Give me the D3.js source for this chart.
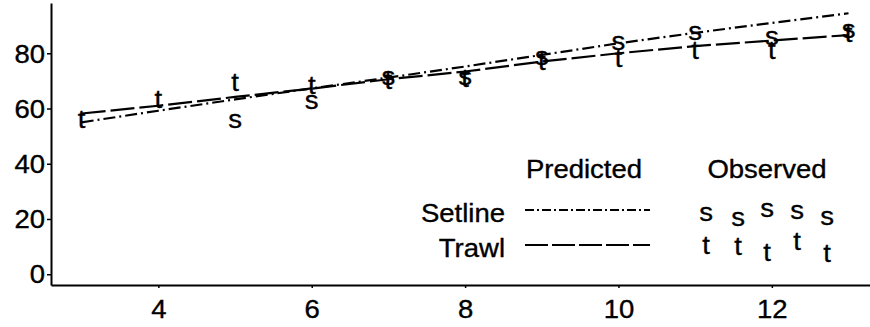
<!DOCTYPE html>
<html>
<head>
<meta charset="utf-8">
<script src="https://cdn.jsdelivr.net/npm/d3@7"></script>
<style>
  html, body { margin: 0; padding: 0; background: #fff; }
  svg { display: block; }
  text { font-family: "Liberation Sans", Arial, Helvetica, sans-serif; fill: #000; stroke: #000; stroke-width: 0.35px; }
</style>
</head>
<body>
<svg id="chart" width="870" height="327"></svg>
<script>
// Age (years) and fitted / observed lengths for two gear types
const ages = [3, 4, 5, 6, 7, 8, 9, 10, 11, 12, 13];
const setlinePredicted = [55.0, 59.2, 63.3, 67.3, 71.2, 75.2, 79.4, 83.6, 87.4, 91.0, 94.5];
const trawlPredicted   = [58.2, 61.0, 64.2, 67.2, 70.6, 73.4, 77.0, 80.0, 82.6, 84.6, 86.6];

const setlineObsAges = [5, 6, 7, 8, 9, 10, 11, 12, 13];
const setlineObserved = [55.2, 62.2, 71.0, 71.0, 78.0, 83.4, 87.0, 85.5, 88.0];
const trawlObsAges = [3, 4, 5, 6, 7, 8, 9, 10, 11, 12, 13];
const trawlObserved = [56.0, 63.1, 69.4, 68.5, 70.0, 71.0, 77.0, 78.0, 81.0, 81.0, 87.0];

const xTicks = [4, 6, 8, 10, 12];
const yTicks = [0, 20, 40, 60, 80];

const svg = d3.select("#chart");
const FS = 25;
const SX = 1.1; // horizontal stretch of the lettering

const x = d3.scaleLinear().domain([2.6, 13.28]).range([51, 870]);
const y = d3.scaleLinear().domain([-3.9, 98.2]).range([285, 3]);

// place a (horizontally stretched) label
function label(parent, tx, ty, str, anchor, dy) {
  const t = parent.append("text")
    .attr("transform", `translate(${tx},${ty}) scale(${SX},1)`)
    .attr("text-anchor", anchor || "middle")
    .attr("font-size", FS)
    .text(str);
  if (dy) t.attr("dy", dy);
  return t;
}

// Axes
const yAxis = svg.append("g")
  .attr("transform", "translate(51,0)")
  .call(d3.axisLeft(y).tickValues(yTicks).tickSize(4).tickSizeOuter(0));
const xAxis = svg.append("g")
  .attr("transform", "translate(0,285)")
  .call(d3.axisBottom(x).tickValues(xTicks).tickSize(3).tickSizeOuter(0));

[yAxis, xAxis].forEach(g => {
  g.select(".domain").attr("stroke", "#000").attr("stroke-width", 2);
  g.selectAll(".tick line").attr("stroke", "#000").attr("stroke-width", 1.5);
  g.selectAll(".tick text").remove();
});
yAxis.selectAll(".tick").each(function(d) {
  label(d3.select(this), -6, 0, d, "end", "0.35em");
});
xAxis.selectAll(".tick").each(function(d) {
  label(d3.select(this), 0, 15, d, "middle", "0.71em");
});

// Predicted curves
const dashSetline = "12,4,2,4";
const dashTrawl = "24,5";
const line = d3.line().x(d => x(d[0])).y(d => y(d[1]));

svg.append("path")
  .datum(ages.map((a, i) => [a, setlinePredicted[i]]))
  .attr("d", line).attr("fill", "none").attr("stroke", "#000")
  .attr("stroke-width", 2.2).attr("stroke-dasharray", dashSetline);
svg.append("path")
  .datum(ages.map((a, i) => [a, trawlPredicted[i]]))
  .attr("d", line).attr("fill", "none").attr("stroke", "#000")
  .attr("stroke-width", 2.2).attr("stroke-dasharray", dashTrawl);

// Observed means drawn as letters
function letters(agesArr, vals, ch, dy) {
  const g = svg.append("g");
  agesArr.forEach((a, i) => label(g, x(a), y(vals[i]), ch, "middle", dy));
}
letters(setlineObsAges, setlineObserved, "s", "0.26em");
letters(trawlObsAges, trawlObserved, "t", "0.34em");

// Legend
const lg = svg.append("g");
label(lg, 584, 178, "Predicted", "middle");
label(lg, 767, 178, "Observed", "middle");
label(lg, 505, 222, "Setline", "end");
label(lg, 505, 257, "Trawl", "end");
lg.append("line").attr("x1", 525).attr("x2", 650).attr("y1", 210).attr("y2", 210)
  .attr("stroke", "#000").attr("stroke-width", 2).attr("stroke-dasharray", "9,3,2,3");
lg.append("line").attr("x1", 525).attr("x2", 650).attr("y1", 245).attr("y2", 245)
  .attr("stroke", "#000").attr("stroke-width", 2).attr("stroke-dasharray", "23,4");

// Scattered sample glyphs in the "Observed" column
const sampleX = [706, 738, 767, 797, 827];
const sampleSy = [221, 226, 217, 219, 225];
const sampleTy = [254, 255, 261, 250, 262];
sampleX.forEach((sx, i) => {
  label(lg, sx, sampleSy[i], "s", "middle");
  label(lg, sx, sampleTy[i], "t", "middle");
});
</script>
</body>
</html>
